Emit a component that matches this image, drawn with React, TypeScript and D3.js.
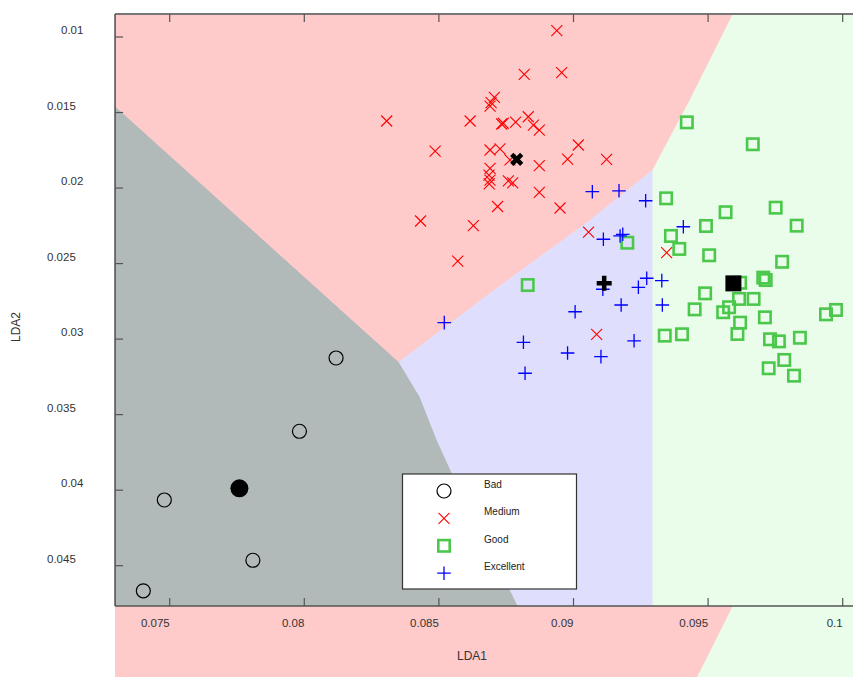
import React from "react";
import * as d3 from "d3";

// ---- Observations (LDA1, LDA2) per quality class ----
const badLD1 = [0.07402, 0.0748, 0.07809, 0.07982, 0.08118];
const badLD2 = [0.04666, 0.04065, 0.04464, 0.0361, 0.03125];

const mediumLD1 = [
  0.08938, 0.08817, 0.08956, 0.08306, 0.08616, 0.08706, 0.08694, 0.0869,
  0.08733, 0.08739, 0.08785, 0.08832, 0.08851, 0.08873, 0.08486, 0.0869,
  0.08727, 0.08764, 0.09018, 0.08978, 0.09123, 0.08873, 0.0869, 0.08686,
  0.0869, 0.08687, 0.08758, 0.08774, 0.08873, 0.08718, 0.0895, 0.08432,
  0.08628, 0.09056, 0.0857, 0.09086, 0.09346,
];
const mediumLD2 = [
  0.00958, 0.01247, 0.01236, 0.01556, 0.01556, 0.01399, 0.01435, 0.01457,
  0.01576, 0.01571, 0.01563, 0.01528, 0.01583, 0.01616, 0.01755, 0.01748,
  0.01741, 0.01814, 0.01715, 0.01808, 0.0181, 0.01852, 0.01869, 0.01914,
  0.01947, 0.01973, 0.01953, 0.01965, 0.02028, 0.02122, 0.02132, 0.02218,
  0.02248, 0.02291, 0.02483, 0.02968, 0.02428,
];

const goodLD1 = [
  0.09421, 0.09666, 0.09344, 0.09565, 0.09751, 0.09492, 0.09829, 0.09362,
  0.092, 0.09393, 0.09504, 0.09775, 0.09705, 0.09714, 0.09619, 0.09489,
  0.09615, 0.09669, 0.0945, 0.09556, 0.09578, 0.09938, 0.09975, 0.09619,
  0.09711, 0.09609, 0.09339, 0.09403, 0.0973, 0.09763, 0.09841, 0.09783,
  0.09725, 0.09819, 0.0883,
];
const goodLD2 = [
  0.01565, 0.0171, 0.02068, 0.0216, 0.0213, 0.02251, 0.02249, 0.02317,
  0.02362, 0.02403, 0.02445, 0.02488, 0.02593, 0.02609, 0.02627, 0.02697,
  0.02734, 0.02734, 0.02803, 0.02822, 0.02789, 0.02836, 0.02807, 0.02891,
  0.02856, 0.02966, 0.02977, 0.02968, 0.03001, 0.03015, 0.02991, 0.03138,
  0.03193, 0.03242, 0.02642,
];

const excellentLD1 = [
  0.0907, 0.09169, 0.09268, 0.09408, 0.09111, 0.09173, 0.09183, 0.0852,
  0.09272, 0.09328, 0.09241, 0.09109, 0.09177, 0.0933, 0.09006, 0.09225,
  0.08814, 0.08978, 0.09102, 0.0882,
];
const excellentLD2 = [
  0.02024, 0.02018, 0.02084, 0.02256, 0.02339, 0.02317, 0.02306, 0.02891,
  0.02597, 0.02613, 0.02657, 0.0267, 0.02774, 0.02774, 0.02819, 0.03011,
  0.03021, 0.03092, 0.03116, 0.03226,
];

// Class means: Bad, Medium, Good, Excellent
const classNames = ["Bad", "Medium", "Good", "Excellent"];
const meanLD1 = [0.07759, 0.08789, 0.09594, 0.09114];
const meanLD2 = [0.03988, 0.0181, 0.02631, 0.02631];

// ---- Decision boundaries between predicted classes (LDA1, LDA2) ----
const badMediumEdge: [number, number][] = [
  [0.07297, 0.01457],
  [0.08352, 0.03152],
];
const badExcellentEdge: [number, number][] = [
  [0.08352, 0.03152],
  [0.0843, 0.03383],
  [0.08493, 0.03668],
  [0.08549, 0.03886],
  [0.08817, 0.0485],
];
const mediumExcellentEdge: [number, number][] = [
  [0.08352, 0.03152],
  [0.08727, 0.02648],
  [0.09054, 0.02225],
  [0.09295, 0.0188],
];
const mediumGoodEdge: [number, number][] = [
  [0.09295, 0.0188],
  [0.09433, 0.01417],
  [0.09593, 0.00848],
  [0.09607, 0.008],
];
const excellentGoodEdge: [number, number][] = [
  [0.09295, 0.0188],
  [0.09295, 0.0485],
];

const xTicks = [0.075, 0.08, 0.085, 0.09, 0.095, 0.1];
const yTicks = [0.01, 0.015, 0.02, 0.025, 0.03, 0.035, 0.04, 0.045];

// Plot window in data units
const ld1Min = 0.07297;
const ld1Max = 0.1012;
const ld2Top = 0.00848;
const ld2Bottom = 0.04767;

const regionColor = {
  Bad: "#b1b9b9",
  Medium: "#ffcaca",
  Good: "#eafdea",
  Excellent: "#dfdffd",
};
const markColor = {
  Bad: "#000000",
  Medium: "#ff0000",
  Good: "#4bc84b",
  Excellent: "#0000ff",
};

const W = 853;
const H = 677;
const FONT = "'Liberation Sans', Arial, sans-serif";

const x = d3.scaleLinear().domain([0.075, 0.1]).range([169.7, 842.7]);
const y = d3.scaleLinear().domain([0.01, 0.045]).range([37, 565.7]);

const zip = (a: number[], b: number[]) => a.map((v, i) => [v, b[i]] as [number, number]);

function Marker({ kind, cx, cy }: { kind: string; cx: number; cy: number }) {
  const c = (markColor as any)[kind];
  if (kind === "Bad")
    return <circle cx={cx} cy={cy} r={7} fill="none" stroke={c} strokeWidth={1.2} />;
  if (kind === "Medium")
    return (
      <path
        d={`M${cx - 5.5},${cy - 5.5}L${cx + 5.5},${cy + 5.5}M${cx - 5.5},${cy + 5.5}L${cx + 5.5},${cy - 5.5}`}
        stroke={c}
        strokeWidth={1.1}
        fill="none"
      />
    );
  if (kind === "Good")
    return <rect x={cx - 5.7} y={cy - 5.7} width={11.4} height={11.4} fill="none" stroke={c} strokeWidth={2.6} />;
  return (
    <path
      d={`M${cx - 6.8},${cy}L${cx + 6.8},${cy}M${cx},${cy - 6.8}L${cx},${cy + 6.8}`}
      stroke={c}
      strokeWidth={1.3}
      fill="none"
    />
  );
}

function MeanMarker({ kind, cx, cy }: { kind: string; cx: number; cy: number }) {
  if (kind === "Bad") return <circle cx={cx} cy={cy} r={9} fill="#000" />;
  if (kind === "Medium")
    return (
      <path
        d={`M${cx - 5},${cy - 5}L${cx + 5},${cy + 5}M${cx - 5},${cy + 5}L${cx + 5},${cy - 5}`}
        stroke="#000"
        strokeWidth={4.5}
        fill="none"
      />
    );
  if (kind === "Good") return <rect x={cx - 8} y={cy - 8} width={16} height={16} fill="#000" />;
  return (
    <path
      d={`M${cx - 7.5},${cy}L${cx + 7.5},${cy}M${cx},${cy - 7.5}L${cx},${cy + 7.5}`}
      stroke="#000"
      strokeWidth={4.5}
      fill="none"
    />
  );
}

export default function App() {
  const yT = 0.008;
  const yB = 0.0485;
  const rev = (e: [number, number][]) => [...e].reverse();

  const polys: { kind: string; pts: [number, number][] }[] = [
    {
      kind: "Bad",
      pts: [...badMediumEdge, ...badExcellentEdge.slice(1), [ld1Min - 0.001, yB]],
    },
    {
      kind: "Medium",
      pts: [
        [ld1Min - 0.001, yT],
        ...rev(mediumGoodEdge),
        ...rev(mediumExcellentEdge).slice(1),
        ...rev(badMediumEdge).slice(1),
        [ld1Min - 0.001, badMediumEdge[0][1]],
      ],
    },
    {
      kind: "Excellent",
      pts: [
        ...mediumExcellentEdge,
        ...excellentGoodEdge.slice(1),
        ...rev(badExcellentEdge),
      ],
    },
    {
      kind: "Good",
      pts: [
        ...mediumGoodEdge,
        [ld1Max + 0.001, yT],
        [ld1Max + 0.001, yB],
        ...rev(excellentGoodEdge),
      ],
    },
  ];

  const line = d3
    .line<[number, number]>()
    .x((d) => x(d[0]))
    .y((d) => y(d[1]));

  const left = x(ld1Min);
  const right = x(ld1Max);
  const top = y(ld2Top);
  const bottom = y(ld2Bottom);
  const wrap = bottom - top;

  const regions = (
    <g>
      {polys.map((p) => (
        <path key={p.kind} d={line(p.pts) + "Z"} fill={(regionColor as any)[p.kind]} stroke={(regionColor as any)[p.kind]} strokeWidth={0.8} />
      ))}
    </g>
  );

  const groups = [
    { kind: "Bad", pts: zip(badLD1, badLD2) },
    { kind: "Medium", pts: zip(mediumLD1, mediumLD2) },
    { kind: "Good", pts: zip(goodLD1, goodLD2) },
    { kind: "Excellent", pts: zip(excellentLD1, excellentLD2) },
  ];

  const axisColor = "#555";
  const tickLen = 8;
  const legendX = 402.5;
  const legendY = 474;
  const rowGap = 27.4;

  return (
    <svg
      width={W}
      height={H}
      style={{ position: "absolute", left: 0, top: 0, background: "#fff" }}
      fontFamily={FONT}
    >
      <defs>
        <clipPath id="plotClip">
          <rect x={left} y={top} width={right - left} height={bottom - top} />
        </clipPath>
        <clipPath id="stripClip">
          <rect x={left} y={top} width={right - left} height={H - bottom} />
        </clipPath>
      </defs>

      {/* decision regions */}
      <g clipPath="url(#plotClip)">{regions}</g>
      {/* region raster continues beneath the frame */}
      <g transform={`translate(0,${wrap})`}>
        <g clipPath="url(#stripClip)">{regions}</g>
      </g>

      {/* frame */}
      <line x1={left} x2={right} y1={top} y2={top} stroke="#777" strokeWidth={2} />
      <line x1={left} x2={right} y1={bottom} y2={bottom} stroke={axisColor} strokeWidth={1.6} />
      <line x1={left} x2={left} y1={top} y2={bottom} stroke={axisColor} strokeWidth={1.6} />

      {xTicks.map((t) => (
        <g key={"x" + t}>
          <line x1={x(t)} x2={x(t)} y1={bottom} y2={bottom - tickLen} stroke={axisColor} strokeWidth={1.2} />
          <line x1={x(t)} x2={x(t)} y1={top} y2={top + tickLen} stroke={axisColor} strokeWidth={1.2} />
          <text x={x(t)} y={bottom + 21} textAnchor="end" fontSize={11.5} fill="#333">
            {String(t)}
          </text>
        </g>
      ))}
      {yTicks.map((t) => {
        const label = String(t);
        return (
          <g key={"y" + t}>
            <line x1={left} x2={left + tickLen} y1={y(t)} y2={y(t)} stroke={axisColor} strokeWidth={1.2} />
            <text x={label.length > 4 ? 47 : 61} y={y(t) - 3} textAnchor="start" fontSize={11.5} fill="#333">
              {label}
            </text>
          </g>
        );
      })}

      <text x={472} y={660} textAnchor="middle" fontSize={12} fill="#333">
        LDA1
      </text>
      <text transform={`translate(20,327) rotate(-90)`} textAnchor="middle" fontSize={12} fill="#333">
        LDA2
      </text>

      {/* observations */}
      {groups.map((g) =>
        g.pts.map((p, i) => <Marker key={g.kind + i} kind={g.kind} cx={x(p[0])} cy={y(p[1])} />)
      )}
      {/* class means */}
      {classNames.map((k, i) => (
        <MeanMarker key={"m" + k} kind={k} cx={x(meanLD1[i])} cy={y(meanLD2[i])} />
      ))}

      {/* legend */}
      <rect x={legendX} y={legendY} width={174} height={115} fill="#fff" stroke="#333" strokeWidth={1.2} />
      {classNames.map((k, i) => {
        const cy = legendY + 17 + i * rowGap;
        return (
          <g key={"l" + k}>
            <Marker kind={k} cx={444} cy={cy} />
            <text x={484} y={cy - 3} fontSize={10} fill="#222">
              {k}
            </text>
          </g>
        );
      })}
    </svg>
  );
}
